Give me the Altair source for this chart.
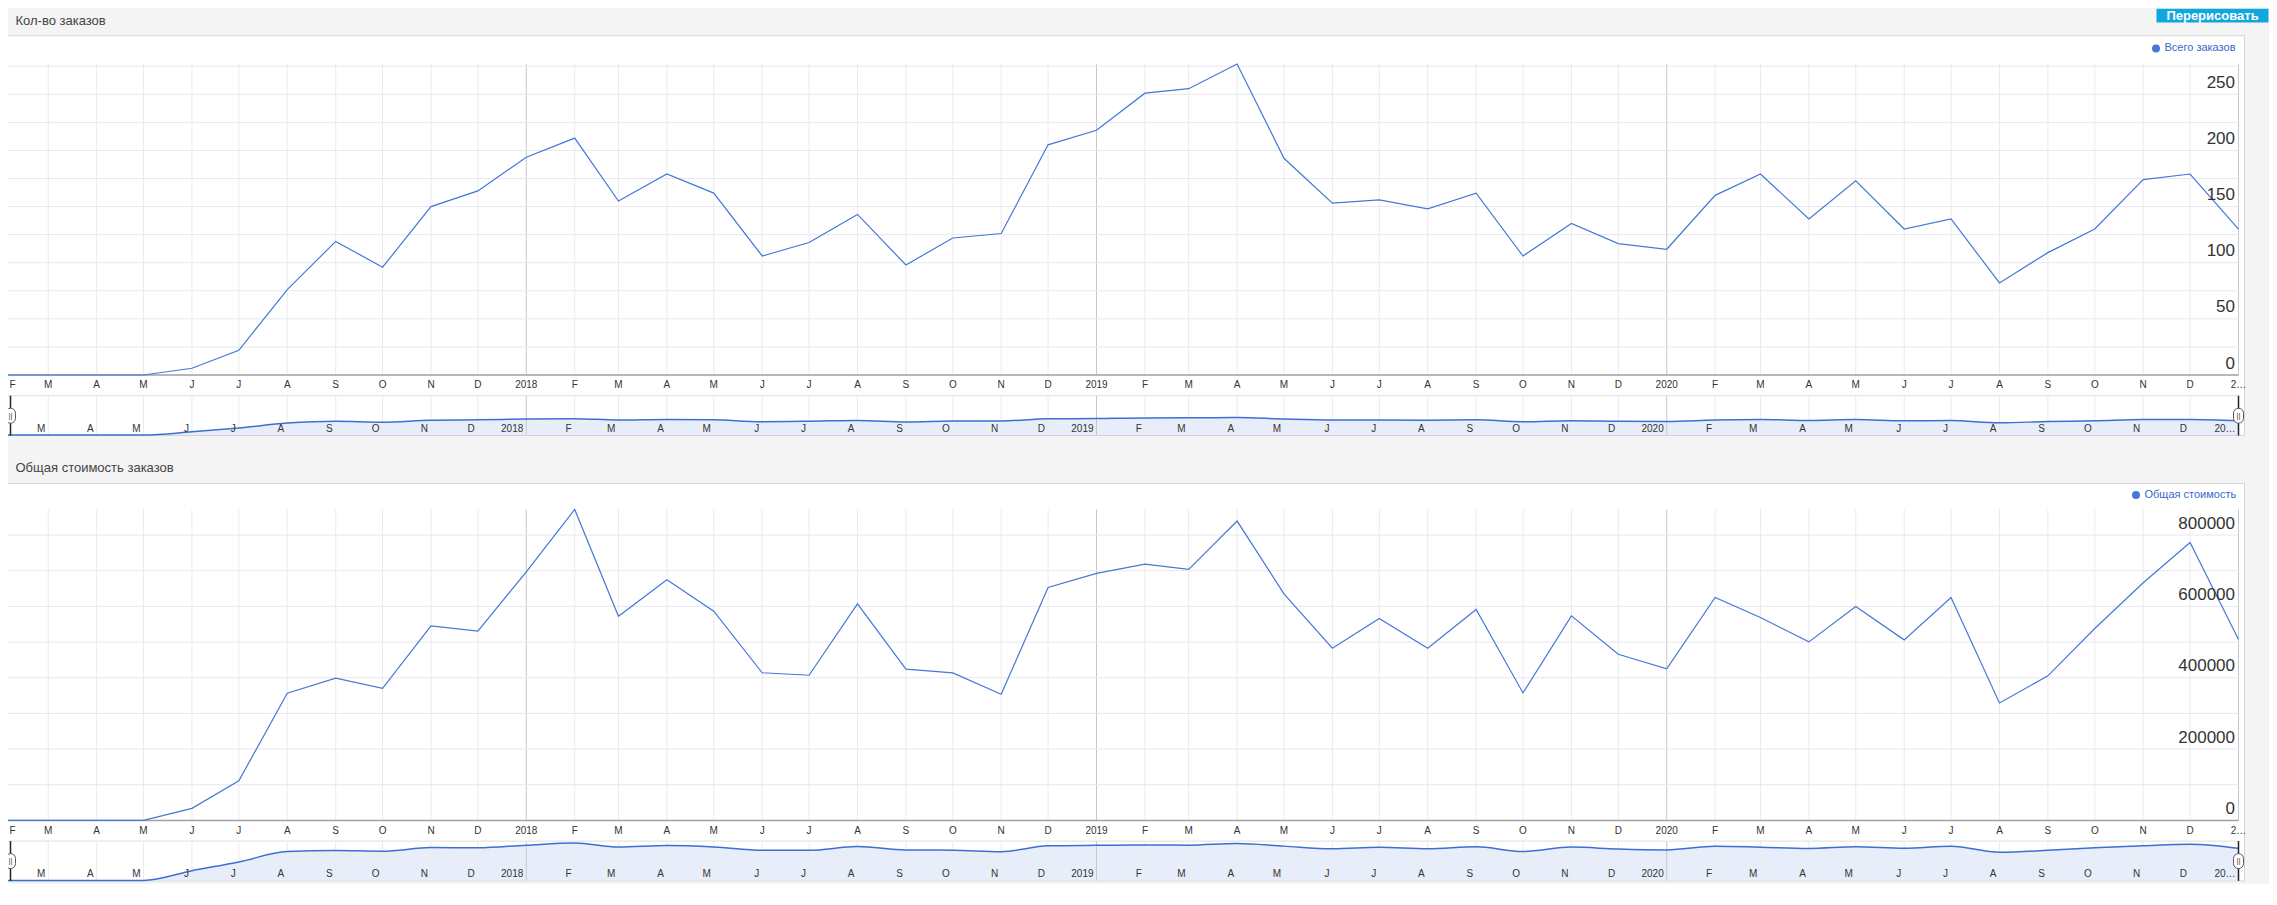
import altair as alt
import pandas as pd

# ---------------- data ----------------
MONTHS = list(pd.date_range("2017-02-01", "2021-01-01", freq="MS"))
ORDERS = [0, 0, 0, 0, 6, 22, 76, 119, 96, 150, 164,
          194, 211, 155, 179, 162, 106, 118, 143, 98, 122, 126, 205,
          218, 251, 255, 277, 193, 153, 156, 148, 162, 106, 135, 117,
          112, 160, 179, 139, 173, 130, 139, 82, 109, 130, 174, 179,
          130]
REVENUE = [0, 0, 0, 0, 33700, 111000, 356500, 398600, 370500, 545500, 530500,
           697000, 872000, 572600, 674600, 586700, 414000, 407000, 607300, 423900, 413600, 353700, 653100,
           692400, 718600, 703600, 839300, 635300, 482800, 566100, 482800, 591400, 357400, 573600, 466000,
           424800, 625000, 569000, 500600, 599800, 506200, 625000, 329400, 405200, 538000, 666200, 779400,
           507100]
PANEL_TITLES = ["Кол-во заказов", "Общая стоимость заказов"]
SERIES_NAMES = ["Всего заказов", "Общая стоимость"]
BUTTON_TEXT = ["Перерисовать"]
TICKS_ORDERS = list(range(0, 276, 25))
TICKS_REVENUE = list(range(0, 800001, 100000))

# ---------------- style ----------------
W, H = 2234, 311
FONT = "Liberation Sans"
LINE = "#4577d8"
MINI_LINE = "#3d6fd3"
MINI_FILL = "#e8eef9"
GRID = "#ebebeb"
YEAR_GRID = "#c8c8c8"
HGRID = "#e7e8ee"
KNOB = ("M-0.667,-0.333 A0.667,0.667 0 0 1 0.667,-0.333 L0.667,0.333 "
        "A0.667,0.667 0 0 1 -0.667,0.333 Z")


def dt(d):
    return alt.DateTime(year=int(d.year), month=int(d.month), date=1)


X_SCALE = alt.Scale(domain=[dt(MONTHS[0]), dt(MONTHS[-1])], nice=False)


def month_label(i, d, ellipsis):
    if d.month == 1:
        return ellipsis if i == len(MONTHS) - 1 else str(d.year)
    return d.strftime("%B")[0]


MAIN_LABELS = [month_label(i, d, "2…") for i, d in enumerate(MONTHS)]
MINI_LABELS = [month_label(i, d, "20…") for i, d in enumerate(MONTHS)]


def xenc():
    return alt.X("date:T", scale=X_SCALE, axis=None)


def handle(end_df, shift):
    line = alt.Chart(end_df).mark_rule(color="#222", strokeWidth=1.5, xOffset=shift).encode(
        x=xenc(), y=alt.value(331.7), y2=alt.value(371.5))
    knob = alt.Chart(end_df).mark_point(shape=KNOB, size=225, filled=True, fill="white",
                                        stroke="#555", strokeWidth=1, opacity=1,
                                        xOffset=shift).encode(
        x=xenc(), y=alt.value(351.7))
    grip = alt.Chart(end_df).mark_text(fontSize=8, font=FONT, color="#444", baseline="middle",
                                       dx=shift).encode(
        x=xenc(), y=alt.value(352), text="grip:N")
    return [line, knob, grip]


def panel(values, title, series, ymax, ticks, label_step, sym_c, sym_max,
          legend_xy, box_top, title_y, extra):
    one = pd.DataFrame({"k": [0]})
    df = pd.DataFrame({"date": MONTHS, "value": values, "series": [series] * len(MONTHS)})
    grid_df = pd.DataFrame({"date": MONTHS, "lab": MAIN_LABELS})
    tick_df = pd.DataFrame({"v": ticks})
    lab_df = pd.DataFrame({"date": MONTHS[1:], "lab": MINI_LABELS[1:]})
    left_end = pd.DataFrame({"date": [MONTHS[0]], "grip": ["||"]})
    right_end = pd.DataFrame({"date": [MONTHS[-1]], "grip": ["||"]})
    title_df = pd.DataFrame({"t": [title]})

    y_main = alt.Scale(domain=[0, ymax], nice=False, zero=True)
    y_mini = alt.Scale(type="symlog", constant=sym_c, domain=[0, sym_max],
                       range=[371, 332], nice=False)
    month_color = alt.condition("month(datum.date) == 0",
                                alt.value(YEAR_GRID), alt.value(GRID))

    yaxis = alt.Axis(
        orient="right", values=ticks,
        labelExpr="datum.value %% %d == 0 ? datum.label : ''" % label_step,
        format="d", title=None, grid=False, ticks=False, tickSize=0, domain=False,
        labelAlign="right", labelBaseline="alphabetic", labelPadding=-4,
        labelOffset=-7, labelFontSize=17, labelColor="#333", labelFont=FONT,
        labelOverlap=False, labelFlush=False, zindex=1)
    legend = alt.Legend(
        title=None, orient="none", legendX=legend_xy[0], legendY=legend_xy[1],
        symbolType="circle", symbolSize=64, symbolFillColor=LINE, symbolStrokeWidth=0,
        labelFontSize=11, labelFont=FONT, labelColor="#3a66cc", labelOffset=3,
        padding=0, offset=0)

    box = alt.Chart(one).mark_rect(fill="white", stroke="#d3d3d3", strokeWidth=1).encode(
        x=alt.value(-6), x2=alt.value(W + 6), y=alt.value(box_top), y2=alt.value(371.5))
    vgrid = alt.Chart(grid_df).mark_rule(strokeWidth=1).encode(
        x=xenc(), y=alt.value(0), y2=alt.value(H), color=month_color)
    hgrid = alt.Chart(tick_df).mark_rule(color=HGRID, strokeWidth=1).encode(
        y=alt.Y("v:Q", scale=y_main, axis=None), x=alt.value(0), x2=alt.value(W))
    xdomain = alt.Chart(one).mark_rule(color="#a3a3a3", strokeWidth=1.5).encode(
        x=alt.value(0), x2=alt.value(W), y=alt.value(H))
    xlabels = alt.Chart(grid_df.iloc[1:]).mark_text(
        align="center", baseline="middle", fontSize=10, font=FONT, color="#333").encode(
        x=xenc(), y=alt.value(321.4), text="lab:N")
    xlabel_first = alt.Chart(grid_df.iloc[:1]).mark_text(
        align="left", baseline="middle", dx=5, fontSize=10, font=FONT, color="#333").encode(
        x=xenc(), y=alt.value(321.4), text="lab:N")
    mtop = alt.Chart(one).mark_rule(color="#dedede").encode(
        x=alt.value(0), x2=alt.value(W), y=alt.value(331.7))
    marea = alt.Chart(df).mark_area(interpolate="monotone", color=MINI_FILL, opacity=1).encode(
        x=xenc(), y=alt.Y("value:Q", scale=y_mini, axis=None))
    mgrid = alt.Chart(grid_df).mark_rule(strokeWidth=1).encode(
        x=xenc(), y=alt.value(332), y2=alt.value(371), color=month_color)
    mline = alt.Chart(df).mark_line(interpolate="monotone", color=MINI_LINE, strokeWidth=1.5).encode(
        x=xenc(), y=alt.Y("value:Q", scale=y_mini, axis=None))
    main = alt.Chart(df).mark_line(strokeWidth=1.2).encode(
        x=xenc(),
        y=alt.Y("value:Q", scale=y_main, axis=yaxis),
        color=alt.Color("series:N", scale=alt.Scale(domain=[series], range=[LINE]), legend=legend))
    mlabels = alt.Chart(lab_df).mark_text(
        align="right", baseline="middle", dx=-3, fontSize=10, font=FONT, color="#333").encode(
        x=xenc(), y=alt.value(364.7), text="lab:N")
    ttl = alt.Chart(title_df).mark_text(align="left", baseline="middle", fontSize=13,
                                        font=FONT, color="#444").encode(
        x=alt.value(11), y=alt.value(title_y), text="t:N")

    layers = ([box, vgrid, hgrid, xdomain, xlabels, xlabel_first, mtop, marea, mgrid, mline,
               main, mlabels] + handle(left_end, 6) + handle(right_end, 0) + [ttl] + extra)
    return alt.layer(*layers).resolve_scale(y="independent").properties(width=W, height=H)


one_row = pd.DataFrame({"k": [0]})
btn_df = pd.DataFrame({"t": BUTTON_TEXT})
button = alt.Chart(one_row).mark_rect(fill="#10a7df").encode(
    x=alt.value(2152), x2=alt.value(2264), y=alt.value(-55.3), y2=alt.value(-41.5))
button_text = alt.Chart(btn_df).mark_text(align="center", baseline="alphabetic", fontSize=13,
                                          fontWeight="bold", font=FONT, color="white").encode(
    x=alt.value(2208), y=alt.value(-44.5), text="t:N")
spacer = alt.Chart(one_row).mark_rect(fill="#f4f4f4").encode(
    x=alt.value(0), x2=alt.value(20), y=alt.value(-60), y2=alt.value(-58))

p1 = panel(ORDERS, PANEL_TITLES[0], SERIES_NAMES[0], max(ORDERS), TICKS_ORDERS, 50,
           6, 32000, (2146, -21.1), -28.3, -43.3, [button, button_text])
p2 = panel(REVENUE, PANEL_TITLES[1], SERIES_NAMES[1], max(REVENUE), TICKS_REVENUE, 200000,
           20000, 1040000, (2126, -19.9), -26.0, -41.7, [spacer])

chart = (
    alt.vconcat(p1, p2, spacing=11.4)
    .resolve_scale(x="independent", y="independent", color="independent")
    .resolve_legend(color="independent")
    .properties(padding={"left": -10.5, "top": 0, "right": 0, "bottom": 0})
    .configure(background="#f4f4f4")
    .configure_view(stroke=None)
)

chart.save("out.html", embed_options={"renderer": "svg", "actions": False})
